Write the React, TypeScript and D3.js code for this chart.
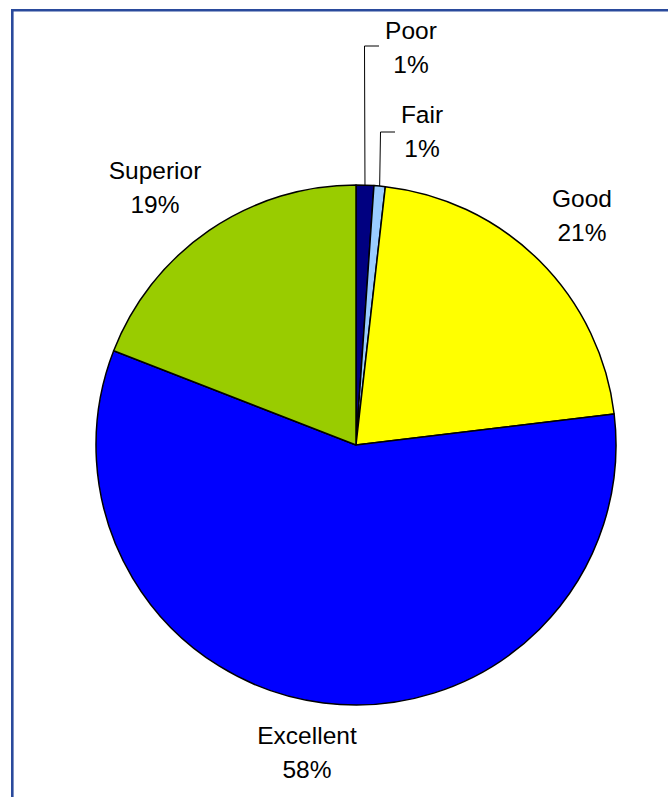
import React from "react";
import * as d3 from "d3";

const categories = ["Poor", "Fair", "Good", "Excellent", "Superior"];
const values = [1.1, 0.7, 21.3, 57.8, 19.1];
const labels = ["1%", "1%", "21%", "58%", "19%"];
const colors = ["#000080", "#99CCFF", "#FFFF00", "#0000FF", "#99CC00"];

export default function App() {
  const W = 668, H = 797;
  const cx = 356, cy = 445, r = 260;
  const pie = d3.pie<number>().sort(null).value((d) => d);
  const arcs = pie(values);
  const arcGen = d3.arc<d3.PieArcDatum<number>>().innerRadius(0).outerRadius(r);

  const labelPos: [number, number][] = [
    [411, 30],
    [422, 114],
    [582, 198],
    [307, 735],
    [155, 170],
  ];
  const midPt = (a: d3.PieArcDatum<number>) => {
    const m = (a.startAngle + a.endAngle) / 2;
    return [cx + r * Math.sin(m), cy - r * Math.cos(m)];
  };

  return (
    <svg width={W} height={H} style={{ position: "absolute", left: 0, top: 0 }}>
      <rect x={0} y={0} width={W} height={H} fill="#fff" />
      <path d={`M12.3,${H} L12.3,10.3 L${W},10.3`} fill="none" stroke="#2a4a9c" strokeWidth={2.6} />
      <g transform={`translate(${cx},${cy})`}>
        {arcs.map((a, i) => (
          <path key={categories[i]} d={arcGen(a) || ""} fill={colors[i]} stroke="#000" strokeWidth={1.5} strokeLinejoin="round" />
        ))}
      </g>
      {(() => {
        const p0 = midPt(arcs[0]);
        const p1 = midPt(arcs[1]);
        return (
          <g fill="none" stroke="#000" strokeWidth={1}>
            <polyline points={`${p0[0]},${p0[1]} 364.5,46 379,46`} />
            <polyline points={`${p1[0]},${p1[1]} 380.5,132 395,132`} />
          </g>
        );
      })()}
      <g fontFamily="Liberation Sans, Arial, sans-serif" fontSize={24.5} fill="#000" textAnchor="middle">
        {arcs.map((a, i) => (
          <text key={categories[i]} x={labelPos[i][0]} y={labelPos[i][1] + 8.6}>
            <tspan x={labelPos[i][0]}>{categories[i]}</tspan>
            <tspan x={labelPos[i][0]} dy={34}>{labels[i]}</tspan>
          </text>
        ))}
      </g>
    </svg>
  );
}
